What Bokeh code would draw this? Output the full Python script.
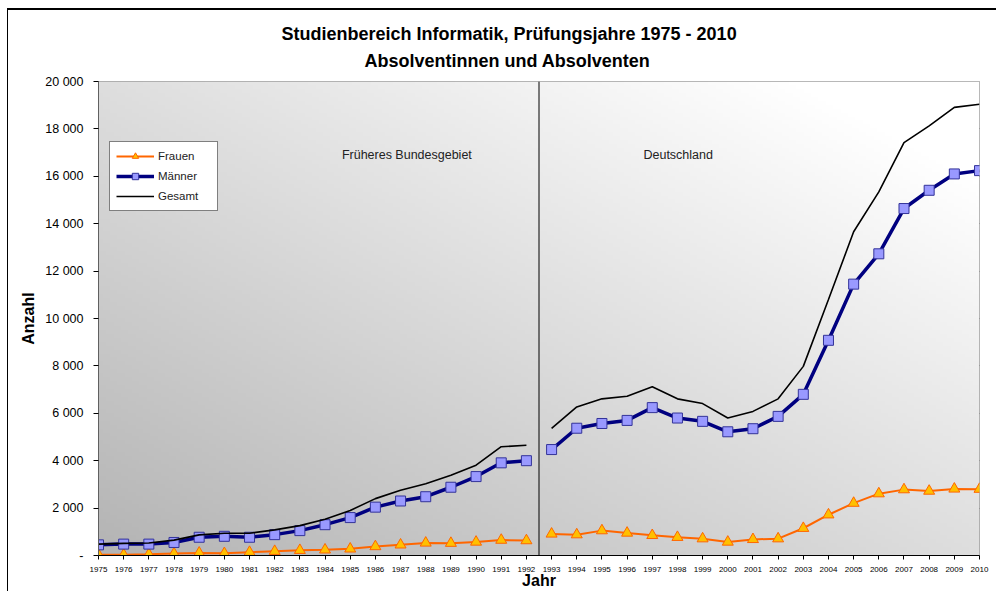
import numpy as np
from bokeh.plotting import figure
from bokeh.models import Range1d, FixedTicker, Span, Label, Legend, LegendItem, Title
from bokeh.embed import file_html
from bokeh.resources import INLINE

# ---------------- data ----------------
years = [1975, 1976, 1977, 1978, 1979, 1980, 1981, 1982, 1983, 1984, 1985, 1986,
         1987, 1988, 1989, 1990, 1991, 1992, 1993, 1994, 1995, 1996, 1997, 1998,
         1999, 2000, 2001, 2002, 2003, 2004, 2005, 2006, 2007, 2008, 2009, 2010]
frauen = [30, 30, 50, 80, 110, 90, 140, 180, 220, 240, 280, 380,
          450, 530, 520, 570, 650, 630, 910, 880, 1050, 950, 850, 770,
          710, 570, 680, 710, 1150, 1720, 2210, 2610, 2780, 2720, 2810, 2800]
maenner = [450, 480, 480, 550, 770, 810, 770, 880, 1050, 1300, 1600, 2040,
           2300, 2480, 2880, 3330, 3910, 4000, 4470, 5370, 5570, 5700, 6240, 5800,
           5660, 5220, 5350, 5870, 6800, 9080, 11450, 12730, 14640, 15410, 16100, 16240]
gesamt = [480, 510, 530, 650, 870, 940, 940, 1080, 1260, 1530, 1900, 2400,
          2750, 3030, 3390, 3810, 4590, 4650, 5360, 6270, 6610, 6720, 7120, 6610,
          6410, 5800, 6080, 6610, 7980, 10800, 13660, 15340, 17420, 18130, 18910, 19040]
year_labels = [str(y) for y in years]
y_ticks = [0, 2000, 4000, 6000, 8000, 10000, 12000, 14000, 16000, 18000, 20000]
y_tick_labels = ["-", "2 000", "4 000", "6 000", "8 000", "10 000", "12 000",
                 "14 000", "16 000", "18 000", "20 000"]
series_names = ["Frauen", "Männer", "Gesamt"]
title_lines = ["Studienbereich Informatik, Prüfungsjahre 1975 - 2010",
               "Absolventinnen und Absolventen"]
region_names = ["Früheres Bundesgebiet", "Deutschland"]
last_year_west = 1992

FONT = "Liberation Sans"

p = figure(width=989, height=583, output_backend="svg", toolbar_location=None,
           title=None,
           x_range=Range1d(years[0], years[-1]), y_range=Range1d(y_ticks[0], y_ticks[-1]),
           min_border_left=90, min_border_right=18, min_border_top=71,
           min_border_bottom=38)
p.styles = {"margin-left": "7px", "margin-top": "8px",
            "border-top": "2px solid #000000", "border-left": "1px solid #000000"}
p.border_fill_color = "white"
p.background_fill_color = "#d0d0d0"
p.outline_line_color = "#a0a0a0"

# gradient background of plot area
ny, nx = 120, 240
u = np.linspace(0, 1, nx)[None, :]
v = np.linspace(0, 1, ny)[:, None]
c = np.clip(180 + 42 * u + 42 * v, 0, 255).astype(np.uint8)
img = np.empty((ny, nx), dtype=np.uint32)
view = img.view(dtype=np.uint8).reshape((ny, nx, 4))
view[:, :, 0] = c
view[:, :, 1] = c
view[:, :, 2] = c
view[:, :, 3] = 255
p.image_rgba(image=[img], x=years[0], y=y_ticks[0],
             dw=years[-1] - years[0], dh=y_ticks[-1] - y_ticks[0])

# grid
p.xgrid.grid_line_color = None
p.ygrid.grid_line_color = "#1a1a1a"
p.ygrid.grid_line_width = 1
p.ygrid.ticker = FixedTicker(ticks=y_ticks)

# axes
p.yaxis.ticker = FixedTicker(ticks=y_ticks)
p.yaxis.major_label_overrides = {t: l for t, l in zip(y_ticks, y_tick_labels)}
p.yaxis.axis_label = "Anzahl"
p.yaxis.axis_label_text_font = FONT
p.yaxis.axis_label_text_font_size = "16px"
p.yaxis.axis_label_text_font_style = "bold"
p.yaxis.axis_label_text_color = "black"
p.yaxis.axis_label_standoff = 5
p.yaxis.major_label_text_font = FONT
p.yaxis.major_label_text_font_size = "12.5px"
p.yaxis.major_label_text_color = "black"
p.yaxis.major_label_standoff = 10
p.yaxis.major_tick_in = 0
p.yaxis.major_tick_out = 5
p.yaxis.minor_tick_line_color = None
p.yaxis.axis_line_color = "#606060"
p.yaxis.major_tick_line_color = "black"

p.xaxis.ticker = FixedTicker(ticks=years)
p.xaxis.major_label_overrides = {y: l for y, l in zip(years, year_labels)}
p.xaxis.axis_label = "Jahr"
p.xaxis.axis_label_text_font = FONT
p.xaxis.axis_label_text_font_size = "16px"
p.xaxis.axis_label_text_font_style = "bold"
p.xaxis.axis_label_text_color = "black"
p.xaxis.axis_label_standoff = -3
p.xaxis.major_label_text_font = FONT
p.xaxis.major_label_text_font_size = "8px"
p.xaxis.major_label_text_color = "black"
p.xaxis.major_label_standoff = 7
p.xaxis.major_tick_in = 0
p.xaxis.major_tick_out = 4
p.xaxis.minor_tick_line_color = None
p.xaxis.axis_line_color = "black"
p.xaxis.major_tick_line_color = "black"

# titles: second line added first (closest to plot)
t2 = Title(text=title_lines[1], align="left", offset=266, standoff=18,
           vertical_align="top",
           text_font=FONT, text_font_size="18px", text_font_style="bold",
           text_color="black")
p.add_layout(t2, "above")
t1 = Title(text=title_lines[0], align="left", offset=183, standoff=-4,
           text_font=FONT, text_font_size="18px", text_font_style="bold",
           text_color="black")
p.add_layout(t1, "above")

# divider between regions
p.add_layout(Span(location=last_year_west + 0.5, dimension="height",
                  line_color="black", line_width=1))
p.add_layout(Label(x=1987.25, y=16880, text=region_names[0], text_font=FONT,
                   text_font_size="12.5px", text_color="#222222",
                   text_align="center", text_baseline="middle"))
p.add_layout(Label(x=1998.03, y=16880, text=region_names[1], text_font=FONT,
                   text_font_size="12.5px", text_color="#222222",
                   text_align="center", text_baseline="middle"))

# split data into two segments
yr = np.array(years)
west = yr <= last_year_west
east = yr > last_year_west

def seg(arr, mask):
    return list(yr[mask]), list(np.array(arr)[mask])

legend_renderers = {}
for mask_i, mask in enumerate([west, east]):
    xs, ys = seg(frauen, mask)
    lf = p.line(xs, ys, line_color="#FF6600", line_width=2)
    sf = p.scatter(xs, ys, marker="triangle", size=11, fill_color="#FFC000",
                   line_color="#FF6600", line_width=1)
    xs, ys = seg(maenner, mask)
    lm = p.line(xs, ys, line_color="#000080", line_width=3.5)
    sm = p.scatter(xs, ys, marker="square", size=10, fill_color="#9999FF",
                   line_color="#333399", line_width=1)
    if mask_i == 0:
        legend_renderers["Frauen"] = [lf, sf]
        legend_renderers["Männer"] = [lm, sm]

for mask_i, mask in enumerate([west, east]):
    xs, ys = seg(gesamt, mask)
    lg = p.line(xs, ys, line_color="black", line_width=1.6)
    if mask_i == 0:
        legend_renderers["Gesamt"] = [lg]

legend = Legend(items=[LegendItem(label=n, renderers=legend_renderers[n]) for n in series_names],
                location=(11, 344), orientation="vertical",
                background_fill_color="white", background_fill_alpha=1.0,
                border_line_color="black", border_line_width=1,
                label_text_font=FONT, label_text_font_size="11.5px",
                label_text_color="#222222",
                padding=6, spacing=4, margin=0,
                glyph_width=38, glyph_height=16, label_height=16,
                label_width=53, label_standoff=4)
p.add_layout(legend, "center")

with open("out.html", "w") as f:
    f.write(file_html(p, INLINE))
